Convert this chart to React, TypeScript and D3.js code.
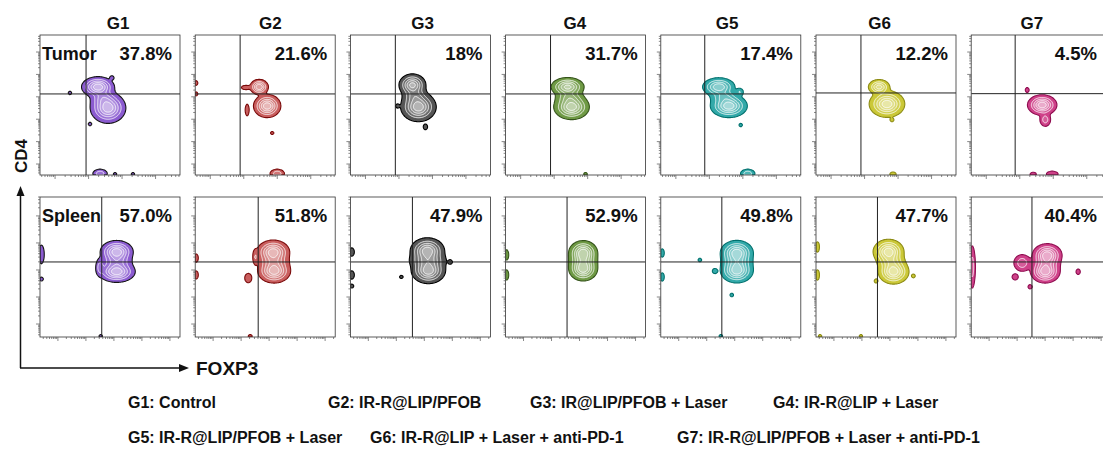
import React, { useMemo } from 'react';
import * as d3 from 'd3';

// ---------------- data ----------------
const groups = ['G1', 'G2', 'G3', 'G4', 'G5', 'G6', 'G7'];
const tissues = ['Tumor', 'Spleen'];
const tumorPercent = ['37.8%', '21.6%', '18%', '31.7%', '17.4%', '12.2%', '4.5%'];
const spleenPercent = ['57.0%', '51.8%', '47.9%', '52.9%', '49.8%', '47.7%', '40.4%'];

// quadrant gates (FOXP3, CD4) in channel units 0-100
const tumorGateFoxp3 = [32.9, 32.1, 32.1, 32.1, 31.4, 32.1, 31.4];
const tumorGateCd4 = [57.9, 57.9, 57.9, 57.9, 57.9, 58.6, 58.1];
const spleenGateFoxp3 = [44.1, 45.0, 44.3, 43.9, 43.6, 43.9, 43.4];
const spleenGateCd4 = [53.6, 53.6, 53.6, 53.6, 53.6, 53.6, 53.6];

// log decade extents of the axes (log10 min, log10 max)
const tumorCd4Log = [-0.49, 5.76];
const spleenCd4Log = [-0.48, 4.7];
const tumorFoxp3Log = [-0.45, 3.73];
const spleenFoxp3Log = [-0.64, 4.36];

// populations: [FOXP3 centre, CD4 centre, FOXP3 spread, CD4 spread, density]
type Pop = [number, number, number, number, number];
const tumorPops: Pop[][] = [
  [[41.4, 62.9, 4.8, 3.0, 1], [48.6, 47.9, 5.2, 4.5, 1], [45.0, 55.0, 4.0, 3.0, 0.35], [51.4, 69.5, 1.0, 1.0, 0.13],
   [21.4, 58.6, 0.9, 0.9, 0.12], [35.7, 36.4, 0.9, 0.9, 0.12], [42.9, 1.0, 2.6, 1.6, 0.35], [53.6, 0.6, 0.9, 0.9, 0.12],
   [66.4, 0.6, 0.9, 0.9, 0.12]],
  [[45.7, 62.9, 2.8, 2.3, 0.8], [51.4, 49.3, 4.0, 3.4, 1], [36.0, 62.5, 2.0, 1.0, 0.15], [37.1, 46.4, 0.8, 2.5, 0.2],
   [55.0, 30.0, 0.9, 0.8, 0.12], [58.6, 1.0, 2.6, 1.6, 0.35], [0.5, 65.7, 1.0, 1.2, 0.13], [0.5, 57.9, 1.0, 1.0, 0.13]],
  [[44.3, 64.3, 4.0, 3.3, 0.9], [48.6, 48.6, 5.2, 4.3, 1], [46.0, 56.5, 4.0, 3.0, 0.35], [53.6, 34.3, 1.0, 1.3, 0.15],
   [33.6, 49.3, 0.9, 0.9, 0.12]],
  [[44.3, 62.9, 4.9, 2.8, 0.9], [47.1, 48.6, 5.2, 3.7, 1], [45.5, 55.5, 4.5, 2.5, 0.35], [57.1, 0.6, 0.9, 0.9, 0.13]],
  [[41.4, 62.9, 4.9, 2.8, 0.8], [48.6, 49.3, 5.4, 3.4, 1], [45.0, 56.0, 4.5, 2.5, 0.35], [56.4, 59.3, 1.5, 1.5, 0.2],
   [57.1, 35.7, 0.9, 0.9, 0.12], [62.1, 1.0, 2.6, 1.6, 0.35]],
  [[45.0, 62.9, 3.3, 2.3, 0.7], [50.7, 50.7, 5.2, 3.9, 1], [54.3, 39.3, 0.9, 0.9, 0.12], [55.0, 0.6, 1.5, 1.0, 0.15]],
  [[50.7, 50.0, 4.3, 3.0, 1], [52.9, 39.5, 2.0, 2.5, 0.3], [40.0, 60.7, 0.9, 1.2, 0.15], [44.3, 0.5, 1.5, 1.0, 0.15],
   [57.9, 0.7, 2.5, 1.2, 0.2]],
];
const spleenPops: Pop[][] = [
  [[54.8, 60.9, 4.8, 3.3, 1], [54.8, 46.6, 5.4, 3.1, 1], [54.8, 53.8, 5.0, 3.0, 0.4], [42.9, 50.0, 1.5, 3.0, 0.3],
   [1.0, 59.0, 1.2, 4.0, 0.2], [1.0, 41.4, 1.0, 1.0, 0.13], [43.4, 0.6, 0.9, 0.9, 0.12]],
  [[55.7, 60.7, 4.8, 3.5, 1], [56.4, 47.1, 4.8, 3.5, 1], [56.0, 53.9, 5.0, 3.0, 0.4], [42.9, 57.1, 1.0, 3.0, 0.2],
   [37.9, 42.1, 1.5, 2.0, 0.2], [0.7, 56.4, 1.0, 2.0, 0.15], [0.7, 44.3, 1.0, 2.0, 0.15], [39.3, 0.6, 1.0, 0.8, 0.13]],
  [[55.0, 61.6, 5.0, 3.8, 1], [55.7, 47.4, 5.0, 3.8, 1], [55.3, 54.5, 6.0, 3.0, 0.45], [71.4, 53.6, 1.0, 1.0, 0.13],
   [36.4, 42.9, 0.9, 0.8, 0.13], [1.0, 60.7, 1.2, 2.0, 0.15], [1.0, 44.3, 1.2, 2.0, 0.15], [1.0, 36.4, 1.0, 1.0, 0.13]],
  [[55.4, 60.3, 4.2, 3.5, 1], [55.4, 48.6, 4.2, 3.5, 1], [55.4, 54.5, 4.5, 3.0, 0.4], [0.7, 58.6, 1.0, 2.5, 0.15],
   [0.7, 44.3, 1.0, 2.5, 0.15]],
  [[54.3, 60.2, 4.8, 3.6, 1], [54.3, 47.4, 4.8, 3.6, 1], [54.3, 53.8, 5.0, 3.0, 0.4], [27.9, 55.0, 0.9, 0.9, 0.13],
   [38.6, 47.1, 1.2, 1.2, 0.15], [50.7, 30.0, 0.9, 0.9, 0.13], [42.9, 0.6, 0.9, 0.9, 0.13], [1.0, 60.0, 1.0, 2.0, 0.15],
   [1.0, 42.9, 1.0, 2.0, 0.15]],
  [[51.8, 61.0, 4.5, 3.6, 1], [55.4, 46.6, 4.5, 3.6, 1], [53.6, 53.8, 4.5, 3.0, 0.4], [42.9, 40.0, 0.9, 1.0, 0.13],
   [69.6, 43.6, 0.9, 0.9, 0.13], [1.0, 64.3, 1.0, 2.5, 0.15], [1.0, 44.3, 1.0, 2.5, 0.15], [2.9, 0.6, 0.9, 0.9, 0.12],
   [32.1, 0.6, 0.9, 0.9, 0.12]],
  [[54.3, 58.6, 4.3, 3.3, 1], [52.9, 46.6, 4.3, 3.3, 1], [53.6, 52.6, 4.5, 3.0, 0.4], [36.4, 52.9, 3.0, 3.0, 0.35],
   [31.4, 42.9, 1.3, 1.3, 0.2], [42.1, 35.9, 1.0, 1.0, 0.15], [76.4, 46.6, 1.0, 1.3, 0.15], [0.7, 50.0, 1.2, 8.0, 0.3]],
];

const legendLabels = [
  'G1: Control',
  'G2: IR-R@LIP/PFOB',
  'G3: IR@LIP/PFOB + Laser',
  'G4: IR-R@LIP + Laser',
  'G5: IR-R@LIP/PFOB + Laser',
  'G6: IR-R@LIP + Laser + anti-PD-1',
  'G7: IR-R@LIP/PFOB + Laser + anti-PD-1',
];

// ---------------- styles / layout ----------------
const palette = [
  { fill: '#8b5bd0', line: '#141414' },
  { fill: '#c95e5e', line: '#7a0a0a' },
  { fill: '#555555', line: '#000000' },
  { fill: '#6f9a45', line: '#34531a' },
  { fill: '#32a9a9', line: '#00706d' },
  { fill: '#cbc838', line: '#8d8c14' },
  { fill: '#cf4189', line: '#8e0c4f' },
];
const W = 1103;
const H = 452;
const PANEL = 140;
const PANEL_X0 = 40;
const PANEL_PITCH = 155.2;
const ROW_TOP = [35, 197];
const TITLE_X0 = 118;
const TITLE_PITCH = 152.3;
const LEGEND_POS: [number, number][] = [
  [128, 408], [328, 408], [530, 408], [773, 408],
  [128, 443], [370, 443], [677, 443],
];
const LEVELS = [0.05, 0.2, 0.38, 0.58, 0.8];
const GRID = 140;
const FONT = '"Liberation Sans", Arial, Helvetica, sans-serif';

function densityGrid(pops: Pop[], n: number): number[] {
  const vals = new Array(n * n);
  for (let j = 0; j < n; j++) {
    const y = 100 - ((j + 0.5) * 100) / n;
    for (let i = 0; i < n; i++) {
      const x = ((i + 0.5) * 100) / n;
      let v = 0;
      for (const [cx, cy, sx, sy, w] of pops) {
        const dx = (x - cx) / sx;
        const dy = (y - cy) / sy;
        const e = dx * dx + dy * dy;
        if (e < 40) v += w * Math.exp(-0.5 * e);
      }
      vals[j * n + i] = v;
    }
  }
  return vals;
}

function logTicks(ext: number[]) {
  const out: { v: number; major: boolean }[] = [];
  for (let d = Math.floor(ext[0]); d <= Math.ceil(ext[1]); d++) {
    for (let m = 1; m <= 9; m++) {
      const v = m * Math.pow(10, d);
      const lv = Math.log10(v);
      if (lv >= ext[0] && lv <= ext[1]) out.push({ v, major: m === 1 });
    }
  }
  return out;
}

function Panel({ gi, row }: { gi: number; row: number }) {
  const left = PANEL_X0 + PANEL_PITCH * gi;
  const top = ROW_TOP[row];
  const pops = row === 0 ? tumorPops[gi] : spleenPops[gi];
  const gx = row === 0 ? tumorGateFoxp3[gi] : spleenGateFoxp3[gi];
  const gy = row === 0 ? tumorGateCd4[gi] : spleenGateCd4[gi];
  const pct = row === 0 ? tumorPercent[gi] : spleenPercent[gi];
  const cd4Ext = row === 0 ? tumorCd4Log : spleenCd4Log;
  const foxExt = row === 0 ? tumorFoxp3Log : spleenFoxp3Log;
  const col = palette[gi];

  const xs = d3.scaleLinear().domain([0, 100]).range([left, left + PANEL]);
  const ys = d3.scaleLinear().domain([0, 100]).range([top + PANEL, top]);

  const paths = useMemo(() => {
    const vals = densityGrid(pops, GRID);
    const cs = d3.contours().size([GRID, GRID]).thresholds(LEVELS)(vals);
    const pt = (p: number[]) =>
      xs((p[0] * 100) / GRID).toFixed(2) + ',' + ys(100 - (p[1] * 100) / GRID).toFixed(2);
    return cs.map((c) =>
      c.coordinates
        .map((poly) => poly.map((ring) => 'M' + ring.map(pt).join('L') + 'Z').join(''))
        .join('')
    );
  }, [gi, row]);

  const yLog = d3.scaleLog().domain([Math.pow(10, cd4Ext[0]), Math.pow(10, cd4Ext[1])]).range([top + PANEL, top]);
  const xLog = d3.scaleLog().domain([Math.pow(10, foxExt[0]), Math.pow(10, foxExt[1])]).range([left, left + PANEL]);
  const clipId = `clip-${row}-${gi}`;
  const fillAt = (k: number) => d3.interpolateRgb(col.fill, '#ffffff')(k * 0.14);
  const pctX = Math.min(left + PANEL - 8, W - 6);

  return (
    <g>
      <defs>
        <clipPath id={clipId}>
          <rect x={left} y={top} width={PANEL} height={PANEL} />
        </clipPath>
      </defs>
      <g clipPath={`url(#${clipId})`}>
        {paths.map((d, k) => (
          <path
            key={k}
            d={d}
            fill={fillAt(k)}
            fillRule="evenodd"
            stroke={k === 0 ? col.line : '#ffffff'}
            strokeWidth={k === 0 ? 1.1 : 0.8}
          />
        ))}
        <line x1={xs(gx)} x2={xs(gx)} y1={top} y2={top + PANEL} stroke="#222" strokeWidth={1} />
        <line x1={left} x2={left + PANEL} y1={ys(gy)} y2={ys(gy)} stroke="#222" strokeWidth={1} />
      </g>
      <rect x={left} y={top} width={PANEL} height={PANEL} fill="none" stroke="#333" strokeWidth={0.8} />
      {logTicks(cd4Ext).map((t, i) => (
        <line key={'y' + i} x1={left - (t.major ? 4 : 2)} x2={left} y1={yLog(t.v)} y2={yLog(t.v)} stroke="#555" strokeWidth={0.7} />
      ))}
      {logTicks(foxExt).map((t, i) => (
        <line key={'x' + i} x1={xLog(t.v)} x2={xLog(t.v)} y1={top + PANEL} y2={top + PANEL + (t.major ? 4 : 2)} stroke="#555" strokeWidth={0.7} />
      ))}
      {gi === 0 && (
        <text x={left + 2} y={top + 24.5} fontFamily={FONT} fontWeight="bold" fontSize={18} fill="#111">
          {tissues[row]}
        </text>
      )}
      <text x={pctX} y={top + 24.5} textAnchor="end" fontFamily={FONT} fontWeight="bold" fontSize={18.5} fill="#111">
        {pct}
      </text>
    </g>
  );
}

export default function App() {
  return (
    <svg
      width={W}
      height={H}
      viewBox={`0 0 ${W} ${H}`}
      style={{ position: 'absolute', left: 0, top: 0, background: '#fff' }}
    >
      <rect x={0} y={0} width={W} height={H} fill="#fff" />
      {groups.map((g, i) => (
        <text key={g} x={TITLE_X0 + TITLE_PITCH * i} y={29} textAnchor="middle" fontFamily={FONT} fontWeight="bold" fontSize={17} fill="#111">
          {g}
        </text>
      ))}
      {[0, 1].map((row) => groups.map((g, i) => <Panel key={g + row} gi={i} row={row} />))}

      {/* axis arrows */}
      <line x1={20.5} x2={20.5} y1={368} y2={194} stroke="#111" strokeWidth={1.5} />
      <path d="M20.5,186 L16.5,196 L24.5,196 Z" fill="#111" />
      <line x1={20} x2={181} y1={368} y2={368} stroke="#111" strokeWidth={1.5} />
      <path d="M189,368 L179,364 L179,372 Z" fill="#111" />
      <text transform="translate(27,156) rotate(-90)" textAnchor="middle" fontFamily={FONT} fontWeight="bold" fontSize={17} fill="#111">
        CD4
      </text>
      <text x={196} y={375} fontFamily={FONT} fontWeight="bold" fontSize={19} fill="#111">
        FOXP3
      </text>

      {legendLabels.map((s, i) => (
        <text key={s} x={LEGEND_POS[i][0]} y={LEGEND_POS[i][1]} fontFamily={FONT} fontWeight="bold" fontSize={16} fill="#111">
          {s}
        </text>
      ))}
    </svg>
  );
}
